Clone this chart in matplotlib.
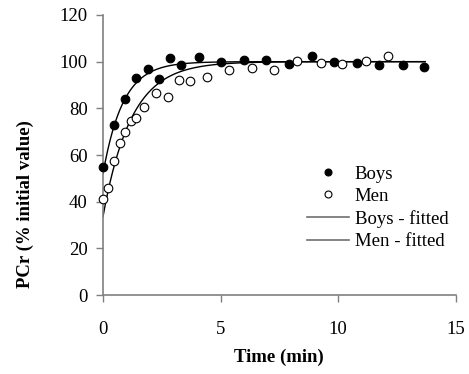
import numpy as np
import matplotlib
matplotlib.use("Agg")
import matplotlib.pyplot as plt
from matplotlib.lines import Line2D

boys_t = [0.0, 0.45, 0.95, 1.42, 1.9, 2.39, 2.87, 3.32, 4.07, 5.04, 5.99, 6.94, 7.92, 8.9, 9.82, 10.82, 11.74, 12.74, 13.66]
boys_pcr = [55, 73, 84, 93, 97, 92.4, 101.7, 98.6, 102.1, 99.7, 100.7, 100.7, 98.9, 102.6, 100, 99.6, 98.6, 98.6, 97.9]
men_t = [0.0, 0.2, 0.48, 0.71, 0.95, 1.19, 1.4, 1.76, 2.27, 2.75, 3.24, 3.72, 4.43, 5.38, 6.35, 7.28, 8.27, 9.26, 10.18, 11.19, 12.12]
men_pcr = [41, 45.7, 57.4, 65, 70, 74.6, 75.7, 80.7, 86.4, 84.7, 92.1, 91.9, 93.6, 96.3, 97.2, 96.3, 100.4, 99.3, 99, 100.4, 102.6]

# fitted mono-exponential parameters (plateau, amplitude, time constant)
boys_fit = (100.0, 48.0, 0.85)
men_fit = (100.0, 66.4, 1.2)
fit_end = 13.7

x_ticks = [0, 5, 10, 15]
y_ticks = [0, 20, 40, 60, 80, 100, 120]

plt.rcParams['font.family'] = ['Liberation Serif', 'DejaVu Serif']
fs = 13.5

fig = plt.figure(figsize=(4.69, 3.74), dpi=100)
ax = fig.add_axes([0.2196, 0.2112, 0.7520, 0.7487])

t = np.linspace(0, fit_end, 400)
ax.plot(t, boys_fit[0] - boys_fit[1] * np.exp(-t / boys_fit[2]), color='black', lw=1.0, zorder=2)
ax.plot(t, men_fit[0] - men_fit[1] * np.exp(-t / men_fit[2]), color='black', lw=1.0, zorder=2)
ax.plot(boys_t, boys_pcr, 'o', ms=6.2, mfc='black', mec='black', mew=0.8, zorder=3, clip_on=False)
ax.plot(men_t, men_pcr, 'o', ms=6.2, mfc='white', mec='black', mew=0.8, zorder=3, clip_on=False)

ax.set_xlim(0, 15)
ax.set_ylim(0, 120)
ax.set_xticks(x_ticks)
ax.set_yticks(y_ticks)
ax.tick_params(labelsize=fs, direction='out', length=5, width=1, color='#808080', pad=14)
ax.tick_params(axis='y', pad=6)
for s in ['top', 'right']:
    ax.spines[s].set_visible(False)
for s in ['left', 'bottom']:
    ax.spines[s].set_color('#808080')
    ax.spines[s].set_linewidth(1.2)

ax.set_xlabel('Time (min)', fontsize=fs, fontweight='bold')
ax.xaxis.set_label_coords(0.5, -0.19)
ax.set_ylabel('PCr (% initial value)', fontsize=fs, fontweight='bold')
ax.yaxis.set_label_coords(-0.195, 0.325)

handles = [
    Line2D([], [], ls='none', marker='o', ms=5.0, mfc='black', mec='black', mew=0.8),
    Line2D([], [], ls='none', marker='o', ms=5.0, mfc='white', mec='black', mew=0.8),
    Line2D([], [], color='#707070', lw=1.2),
    Line2D([], [], color='#707070', lw=1.2),
]
labels = ['Boys', 'Men', 'Boys - fitted', 'Men - fitted']
leg = ax.legend(handles, labels, loc='upper left', bbox_to_anchor=(0.578, 0.462),
                frameon=False, fontsize=fs, handlelength=2.25, handletextpad=0.3,
                labelspacing=0.27, borderpad=0, borderaxespad=0)

fig.savefig('out.png', dpi=100)
